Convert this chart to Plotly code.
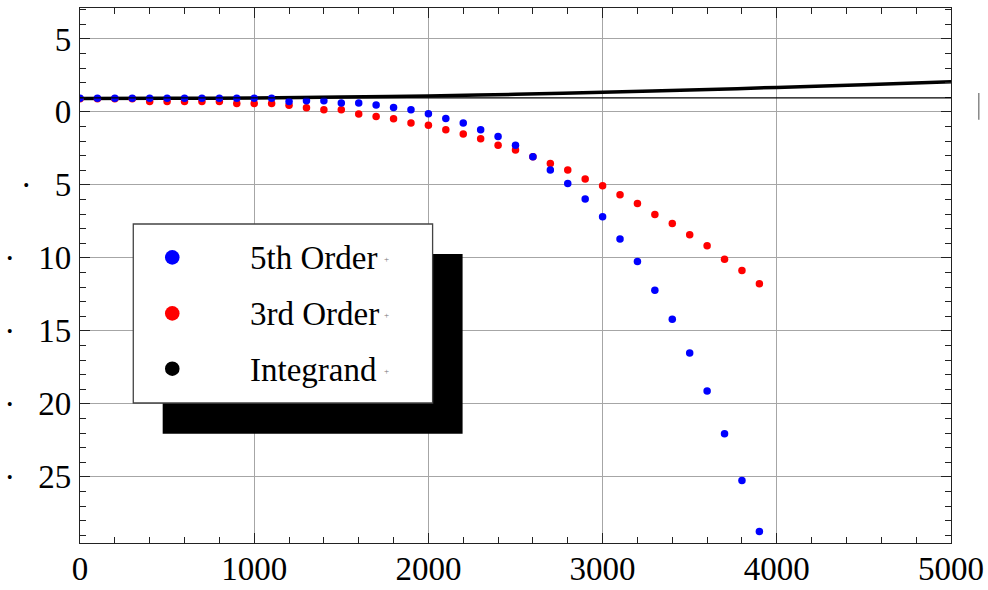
import plotly.graph_objects as go

# ---- data ----
x_pts = [0, 100, 200, 300, 400, 500, 600, 700, 800, 900, 1000, 1100, 1200, 1300,
         1400, 1500, 1600, 1700, 1800, 1900, 2000, 2100, 2200, 2300, 2400, 2500,
         2600, 2700, 2800, 2900, 3000, 3100, 3200, 3300, 3400, 3500, 3600, 3700,
         3800, 3900]

fifth_order = [0.93, 0.93, 0.93, 0.93, 0.93, 0.93, 0.93, 0.93, 0.93, 0.93, 0.93, 0.93,
               0.72, 0.77, 0.77, 0.61, 0.61, 0.47, 0.31, 0.15, -0.13, -0.45, -0.76,
               -1.22, -1.68, -2.29, -3.07, -3.98, -4.90, -5.97, -7.18, -8.71, -10.24,
               -12.22, -14.21, -16.51, -19.12, -22.04, -25.24, -28.75]

third_order = [0.90, 0.90, 0.90, 0.90, 0.72, 0.72, 0.72, 0.72, 0.72, 0.58, 0.58, 0.58,
               0.45, 0.29, 0.15, 0.15, -0.14, -0.31, -0.47, -0.76, -0.92, -1.22, -1.51,
               -1.84, -2.29, -2.61, -3.07, -3.53, -3.98, -4.60, -5.05, -5.67, -6.28,
               -7.03, -7.65, -8.41, -9.16, -10.10, -10.86, -11.77]

integrand_x = [0, 500, 1000, 1500, 2000, 2500, 3000, 3500, 4000, 4500, 5000]
integrand_y = [0.92, 0.93, 0.96, 1.02, 1.10, 1.21, 1.35, 1.50, 1.68, 1.86, 2.06]

axis_line_y = 0.96

x_ticks = [0, 1000, 2000, 3000, 4000, 5000]
x_tick_text = ["0", "1000", "2000", "3000", "4000", "5000"]
y_ticks = [5, 0, -5, -10, -15, -20, -25]
GAP = "\u00a0\u00a0\u2009"
y_tick_text = ["5", "0", "·" + GAP + "5", "·" + GAP + "10", "·" + GAP + "15",
               "·" + GAP + "20", "·" + GAP + "25"]

legend_names = ["5th Order", "3rd Order", "Integrand"]
legend_colors = ["#0000ff", "#ff0000", "#000000"]

FONT = "Liberation Serif"
FS = 33

fig = go.Figure()

fig.add_trace(go.Scatter(x=integrand_x, y=integrand_y, mode="lines",
                         line=dict(color="black", width=3.5, shape="spline"),
                         name="Integrand", showlegend=False))
fig.add_trace(go.Scatter(x=x_pts, y=third_order, mode="markers",
                         marker=dict(color="#ff0000", size=7.5),
                         name="3rd Order", showlegend=False))
fig.add_trace(go.Scatter(x=x_pts, y=fifth_order, mode="markers",
                         marker=dict(color="#0000ff", size=7.5),
                         name="5th Order", showlegend=False))

# thin horizontal axis line
fig.add_shape(type="line", xref="x", yref="y", x0=0, x1=5000,
              y0=axis_line_y, y1=axis_line_y, line=dict(color="black", width=1.3),
              layer="above")

# ---- manual legend with drop shadow (pixel -> data conversion) ----
def px2x(px):
    return (px - 80.0) / 0.17425

def px2y(py):
    return (112.2 - py) / 14.6

fig.add_shape(type="rect", xref="x", yref="y",
              x0=px2x(162.7), x1=px2x(462.7), y0=px2y(254.3), y1=px2y(434.0),
              fillcolor="black", line=dict(width=0), layer="above")
fig.add_shape(type="rect", xref="x", yref="y",
              x0=px2x(133.3), x1=px2x(432.7), y0=px2y(224.3), y1=px2y(403.3),
              fillcolor="white", line=dict(color="#444444", width=1.3), layer="above")

leg_py = [257.7, 313.7, 369.0]
for name, col, py in zip(legend_names, legend_colors, leg_py):
    r = 7.3
    fig.add_shape(type="circle", xref="x", yref="y",
                  x0=px2x(172.3 - r), x1=px2x(172.3 + r),
                  y0=px2y(py - r), y1=px2y(py + r),
                  fillcolor=col, line=dict(width=0), layer="above")
    fig.add_annotation(x=px2x(248), y=px2y(py + 1), xref="x", yref="y",
                       text=name, showarrow=False, xanchor="left", yanchor="middle",
                       font=dict(family=FONT, size=FS, color="black"))
    fig.add_annotation(x=px2x(386.5), y=px2y(py + 2), xref="x", yref="y",
                       text="+", showarrow=False, xanchor="center", yanchor="middle",
                       font=dict(family=FONT, size=9, color="#777777"))

# stray mark at right edge
fig.add_shape(type="line", xref="paper", yref="paper",
              x0=(979.3 - 80) / 871.5, x1=(979.3 - 80) / 871.5,
              y0=(543.3 - 93.3) / 535.0, y1=(543.3 - 120) / 535.0,
              line=dict(color="#888888", width=1.5))

fig.update_xaxes(range=[0, 5000], tickvals=x_ticks, ticktext=x_tick_text,
                 automargin=False, ticklabelstandoff=-4,
                 showgrid=True, gridcolor="#a6a6a6", gridwidth=1.3,
                 showline=True, linecolor="#222222", linewidth=1.3, mirror="allticks",
                 ticks="inside", ticklen=10, tickcolor="#222222", tickwidth=1.2,
                 minor=dict(ticks="inside", dtick=200, ticklen=6, tickcolor="#222222",
                            showgrid=False),
                 zeroline=False,
                 tickfont=dict(family=FONT, size=FS, color="black"))
fig.update_yaxes(range=[-29.53, 7.12], tickvals=y_ticks, ticktext=y_tick_text,
                 automargin=False, ticklabelstandoff=1,
                 showgrid=True, gridcolor="#a6a6a6", gridwidth=1.3,
                 showline=True, linecolor="#222222", linewidth=1.3, mirror="allticks",
                 ticks="inside", ticklen=10, tickcolor="#222222", tickwidth=1.2,
                 minor=dict(ticks="inside", dtick=1, ticklen=6, tickcolor="#222222",
                            showgrid=False),
                 zeroline=False,
                 tickfont=dict(family=FONT, size=FS, color="black"))

fig.update_layout(width=988, height=590,
                  margin=dict(l=80, r=36.5, t=8.3, b=46.7, pad=0),
                  plot_bgcolor="white", paper_bgcolor="white",
                  showlegend=False)

fig.write_html("out.html", config={"displayModeBar": False},
               post_script="document.body.style.margin='0';"
                           "document.documentElement.style.overflow='hidden';")
